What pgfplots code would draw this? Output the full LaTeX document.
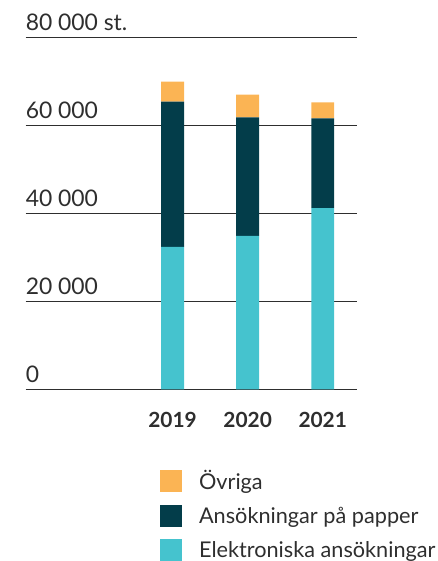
\documentclass[border=0pt]{standalone}
\usepackage{pgfplots}
\pgfplotsset{compat=1.18}
\usepackage{fontspec}
\setmainfont{Lato}
\definecolor{ovr}{HTML}{FBB454}
\definecolor{pap}{HTML}{033D4A}
\definecolor{ele}{HTML}{45C3CE}
\definecolor{txt}{HTML}{2E2E2E}
\begin{document}
\begin{tikzpicture}
\begin{axis}[
  name=ax,
  scale only axis,
  width=333.6pt, height=354pt,
  xmin=-1.958, xmax=2.461,
  ymin=0, ymax=80000,
  ybar stacked,
  bar width=0.305,
  axis line style={draw=none},
  major tick length=0pt,
  scaled y ticks=false,
  ytick={0,20000,40000,60000,80000},
  yticklabels={0,20 000,40 000,60 000,80 000 st.},
  ymajorgrids,
  grid style={txt, line width=0.9pt},
  yticklabel style={anchor=base west, inner sep=0pt, yshift=6.5pt, font=\fontsize{23}{26}\selectfont, text=txt},
  xtick={0,1,2},
  xticklabels={2019,2020,2021},
  xticklabel style={anchor=base, inner sep=0pt, yshift=-38.5pt, font=\fontsize{21}{24}\selectfont\bfseries, text=txt},
  /pgf/number format/assume math mode=true,
  reverse legend,
  legend cell align=left,
  legend style={at={(rel axis cs:0.4056,-0.2246)}, anchor=north west, draw=none, fill=none, inner sep=0pt,
    row sep=12pt, font=\fontsize{21.8}{24}\selectfont, text=txt,
    /tikz/every odd column/.append style={column sep=15pt}},
  legend image code/.code={\fill[#1] (0pt,-11pt) rectangle (22pt,11pt);},
]
\addplot[fill=ele, draw=none] coordinates {(0,32400) (1,34900) (2,41200)};
\addplot[fill=pap, draw=none] coordinates {(0,33000) (1,26900) (2,20400)};
\addplot[fill=ovr, draw=none] coordinates {(0,4500) (1,5200) (2,3600)};
\legend{Elektroniska ansökningar, Ansökningar på papper, Övriga}
\end{axis}
\path ([shift={(-25.7pt,-169.5pt)}]ax.south west) rectangle ([shift={(77.7pt,37.5pt)}]ax.north east);
\end{tikzpicture}
\end{document}
